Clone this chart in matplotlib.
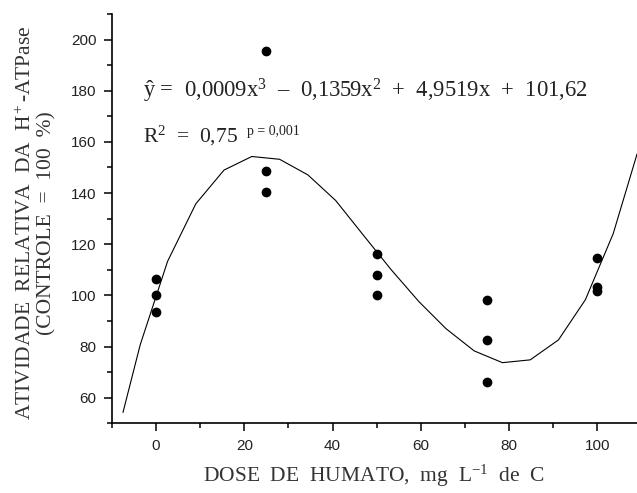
import matplotlib
matplotlib.use('Agg')
import matplotlib.pyplot as plt
from matplotlib.ticker import MultipleLocator

plt.rcParams['mathtext.fontset'] = 'custom'
plt.rcParams['mathtext.rm'] = 'Liberation Serif'
plt.rcParams['mathtext.it'] = 'Liberation Serif:italic'

# doses (mg/L de C) e atividade relativa observada
dose = [0, 0, 0, 25, 25, 25, 50, 50, 50, 75, 75, 75, 100, 100, 100]
atividade = [106.4, 100.0, 93.5, 195.4, 148.5, 140.4, 116.2, 108.1, 100.0,
             98.3, 82.4, 66.0, 114.5, 103.1, 101.6]

# curva ajustada (vértices)
curva_x = [-7.5, -3.6, 2.6, 9.0, 15.4, 21.7, 28.0, 34.4, 40.7, 47.0, 53.3,
           59.6, 65.7, 72.1, 78.5, 84.8, 91.2, 97.3, 103.6, 109.0]
curva_y = [54.3, 80.7, 113.3, 135.8, 149.0, 154.3, 153.2, 147.1, 137.1, 123.5,
           110.0, 97.5, 87.0, 78.3, 73.7, 74.8, 82.6, 98.3, 124.1, 155.2]

W, H = 637, 493
fig = plt.figure(figsize=(W / 100, H / 100), dpi=100)
ax = fig.add_axes([0.1758, 0.1414, 0.8242, 0.8302])

ax.plot(curva_x, curva_y, color='black', lw=0.8)
ax.plot(dose, atividade, 'o', color='black', ms=6)

ax.set_xlim(-10, 109)
ax.set_ylim(50, 210)
ax.xaxis.set_major_locator(MultipleLocator(20))
ax.xaxis.set_minor_locator(MultipleLocator(10))
ax.yaxis.set_minor_locator(MultipleLocator(10))
ax.set_yticks([60, 80, 100, 120, 140, 160, 180, 200])
ax.spines['top'].set_visible(False)
ax.spines['right'].set_visible(False)
for s in ['left', 'bottom']:
    ax.spines[s].set_linewidth(1.2)
ax.tick_params(which='major', length=6, width=1.1, direction='out', pad=5)
ax.tick_params(which='minor', length=3.5, width=1.1, direction='out')
for lab in ax.get_xticklabels() + ax.get_yticklabels():
    lab.set_fontfamily('Liberation Sans')
    lab.set_fontsize(11)
    lab.set_color('#222222')

serif = 'Liberation Serif'
# equação e R2 (posições em pixels da figura)
fig.text(143 / W, 1 - 97 / H,
         'ŷ =  0,0009x$\\mathregular{^3}$  –  0,1359x$\\mathregular{^2}$  +  4,9519x  +  101,62',
         fontsize=16.3, family=serif, va='baseline', ha='left', color='#222222')
fig.text(143 / W, 1 - 142 / H, 'R$\\mathregular{^2}$  =  0,75', fontsize=15.5,
         family=serif, va='baseline', ha='left', color='#222222')
fig.text(247 / W, 1 - 135 / H, 'p = 0,001', fontsize=10, family=serif,
         va='baseline', ha='left', color='#222222')

fig.text(36 / W, 1 - 223 / H,
         'ATIVIDADE  RELATIVA  DA  H$\\mathregular{^+}$-ATPase\n(CONTROLE  =  100  %)',
         rotation=90, fontsize=15.5, family=serif, color='#333333',
         ha='center', va='center', multialignment='center', linespacing=1.1)
fig.text(374 / W, 1 - 476 / H, 'DOSE  DE  HUMATO,  mg  L$\\mathregular{^{-1}}$  de  C',
         fontsize=15.5, family=serif, color='#333333', ha='center', va='center')

plt.savefig('out.png', dpi=100)
